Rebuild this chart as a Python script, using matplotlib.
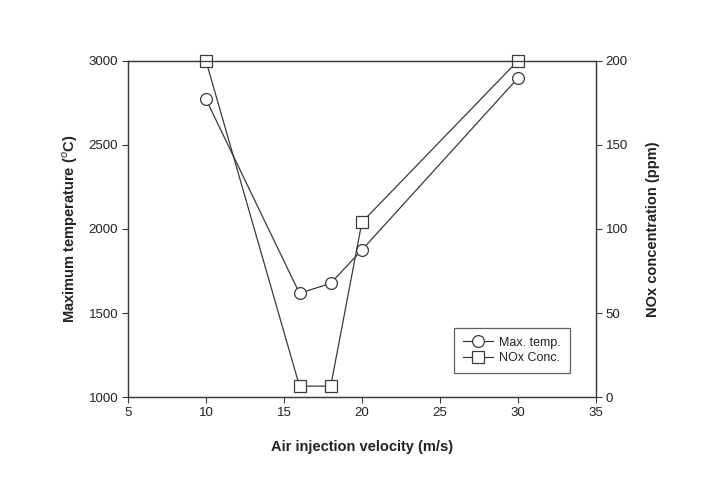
import matplotlib
matplotlib.use("Agg")
import matplotlib.pyplot as plt

plt.rcParams['font.family'] = ['Liberation Sans', 'DejaVu Sans']

velocity = [10, 16, 18, 20, 30]
max_temp = [2772, 1617, 1677, 1875, 2897]
nox_conc = [200, 6.5, 6.5, 104, 200]

line_color = '#3a3a3a'
text_color = '#222222'

fig = plt.figure(figsize=(7.11, 4.79), dpi=100)
ax = fig.add_axes([0.18, 0.171, 0.658, 0.702])
ax2 = ax.twinx()

h1, = ax.plot(velocity, max_temp, color=line_color, lw=0.9, marker='o', ms=8.5,
              mfc='white', mec=line_color, mew=0.9, label='Max. temp.', clip_on=False)
h2, = ax2.plot(velocity, nox_conc, color=line_color, lw=0.9, marker='s', ms=8.5,
               mfc='white', mec=line_color, mew=0.9, label='NOx Conc.', clip_on=False)

ax.set_xlim(5, 35)
ax.set_ylim(1000, 3000)
ax2.set_ylim(0, 200)
ax.set_xticks([5, 10, 15, 20, 25, 30, 35])
ax.set_yticks([1000, 1500, 2000, 2500, 3000])
ax2.set_yticks([0, 50, 100, 150, 200])

for a in (ax, ax2):
    for s in a.spines.values():
        s.set_color(line_color)
        s.set_linewidth(0.9)
    a.tick_params(direction='out', length=4, width=0.8, colors=line_color,
                  labelcolor=text_color, labelsize=9.5, pad=3)

ax.set_xlabel('Air injection velocity (m/s)', fontsize=10.5, fontweight='bold',
              color=text_color, labelpad=15)
ax.set_ylabel('Maximum temperature ($^o$C)', fontsize=10.5, fontweight='bold',
              color=text_color, labelpad=6)
ax2.set_ylabel('NOx concentration (ppm)', fontsize=10.5, fontweight='bold',
               color=text_color, labelpad=13)

leg = ax2.legend(handles=[h1, h2], loc='lower right', bbox_to_anchor=(0.944, 0.071),
                 fontsize=9, frameon=True, fancybox=False, handlelength=2.4,
                 borderpad=0.7, labelspacing=0.3, handletextpad=0.5,
                 borderaxespad=0.0)
leg.get_frame().set_edgecolor(line_color)
leg.get_frame().set_linewidth(0.9)
for t in leg.get_texts():
    t.set_color(text_color)

fig.savefig('out.png', dpi=100)
